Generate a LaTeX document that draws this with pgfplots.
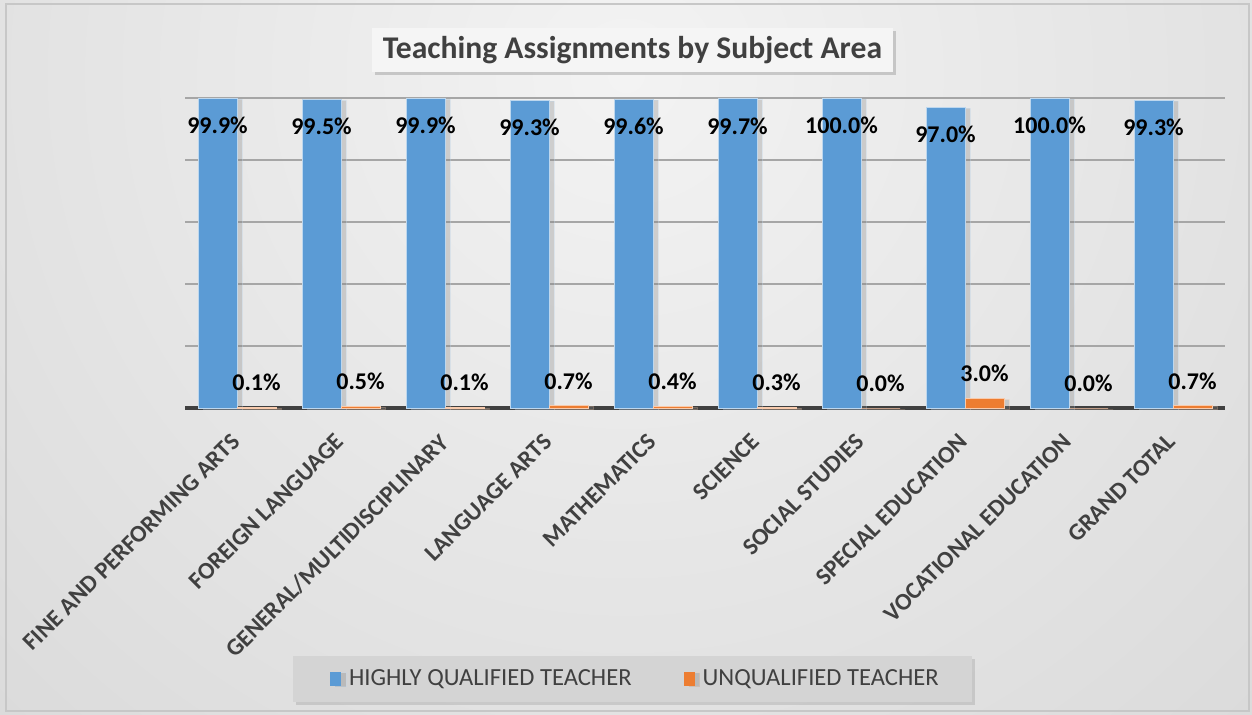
\documentclass[border=0pt]{standalone}
\usepackage{pgfplots}
\pgfplotsset{compat=1.18}
\usepackage{fontspec}
\setmainfont{Carlito}
\usetikzlibrary{shadows}
\definecolor{hqblue}{HTML}{5B9BD5}
\definecolor{uqorange}{HTML}{ED7D31}
\definecolor{txtgray}{HTML}{404040}
\definecolor{gridgray}{HTML}{A6A6A6}
\definecolor{bgin}{HTML}{F3F3F3}
\definecolor{bgout}{HTML}{C6C6C6}
\pgfdeclareradialshading{bgshade}{\pgfpoint{0bp}{0bp}}{color(0bp)=(bgin); color(50bp)=(bgout)}

\begin{document}
\begin{tikzpicture}[x=1pt,y=1pt]
% background
\begin{scope}
\clip (0,0) rectangle (626,357);
\shade[shading=bgshade] (-107,-100) rectangle (733,740);
\end{scope}
\draw[color=black!22, line width=0.8pt] (3,1.5) rectangle (624.5,355);
% title box
\node[fill=white!96!black, drop shadow={shadow xshift=1.5pt, shadow yshift=-1.5pt, opacity=0.35},
  minimum width=260.5pt, minimum height=22pt, text=txtgray,
  font=\bfseries\fontsize{15.8}{18}\selectfont] at (316.25,332) {Teaching Assignments by Subject Area};
% legend box
\fill[black!17, drop shadow={shadow xshift=1.5pt, shadow yshift=-1.5pt, opacity=0.25}] (146.5,6) rectangle (486,29);

\begin{axis}[
  at={(92.5pt,153pt)}, anchor=south west,
  scale only axis, width=520pt, height=155pt,
  xmin=-0.5, xmax=9.5, ymin=0, ymax=100,
  axis line style={draw=none},
  ybar=0pt, bar width=19.5pt,
  xtick={0,...,9},
  xticklabels={FINE AND PERFORMING ARTS, FOREIGN LANGUAGE, GENERAL/MULTIDISCIPLINARY, LANGUAGE ARTS, MATHEMATICS, SCIENCE, SOCIAL STUDIES, SPECIAL EDUCATION, VOCATIONAL EDUCATION, GRAND TOTAL},
  xticklabel style={xshift=-3.5pt, yshift=-10.5pt, rotate=45, anchor=north east, text=txtgray, font=\bfseries\fontsize{12}{14}\selectfont, inner sep=1pt},
  ytick={20,40,...,100}, yticklabels={},
  ymajorgrids, grid style={gridgray, line width=0.6pt},
  extra y ticks={0}, extra y tick labels={},
  extra y tick style={grid style={txtgray, line width=1.6pt}},
  major tick length=0pt,
  clip=false,
  /pgf/number format/assume math mode=true,
  nodes near coords={\pgfmathprintnumber[fixed,fixed zerofill,precision=1]{\pgfplotspointmeta}\%},
  nodes near coords style={font=\bfseries\fontsize{12}{14}\selectfont, text=black, anchor=center},
  legend columns=2,
  legend style={at={(0.434,-0.874)}, anchor=center, draw=none, fill=none,
    font=\fontsize{12.3}{14}\selectfont, text=txtgray,
    /tikz/every odd column/.append style={column sep=2pt},
    /tikz/every even column/.append style={column sep=24pt}},
  legend image code/.code={\fill[#1, draw=none] (0pt,-3.5pt) rectangle (5.5pt,3.5pt);},
]
\addplot[fill=hqblue, draw=hqblue!40!white, line width=0.5pt,
  drop shadow={shadow xshift=2.5pt, shadow yshift=-0.5pt, opacity=0.3},
  nodes near coords style={yshift=-13.5pt}] coordinates {
  (0,99.9) (1,99.5) (2,99.9) (3,99.3) (4,99.6) (5,99.7) (6,100.0) (7,97.0) (8,100.0) (9,99.3)
};
\addlegendentry{HIGHLY QUALIFIED TEACHER}
\addplot[fill=uqorange, draw=uqorange!40!white, line width=0.5pt,
  drop shadow={shadow xshift=2.5pt, shadow yshift=-0.5pt, opacity=0.3},
  nodes near coords style={yshift=12.5pt}] coordinates {
  (0,0.1) (1,0.5) (2,0.1) (3,0.7) (4,0.4) (5,0.3) (6,0.0) (7,3.0) (8,0.0) (9,0.7)
};
\addlegendentry{UNQUALIFIED TEACHER}
\end{axis}
\end{tikzpicture}
\end{document}
